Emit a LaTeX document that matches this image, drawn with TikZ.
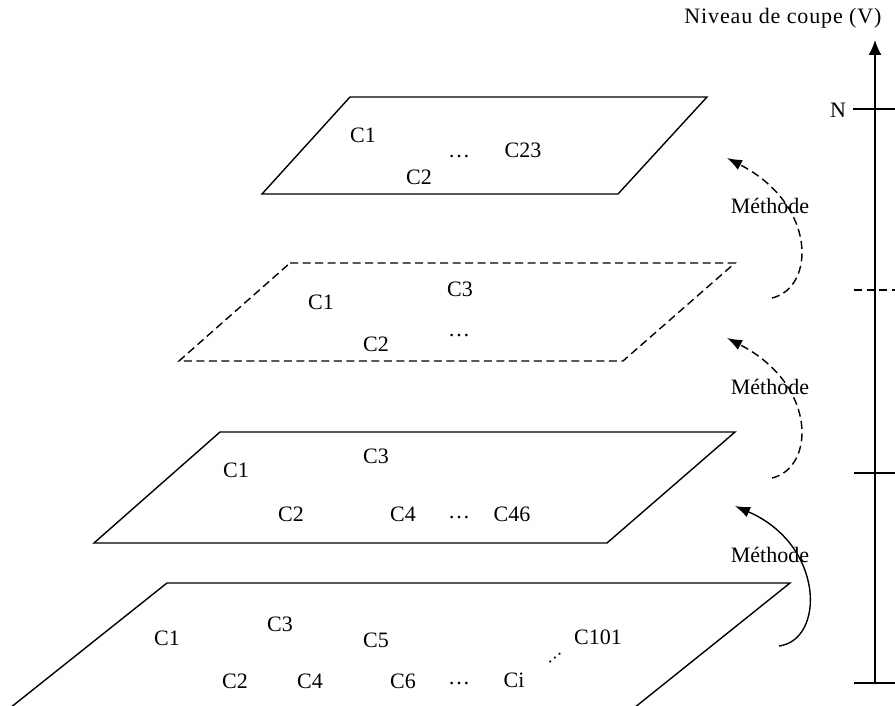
\documentclass[tikz,border=0pt]{standalone}
\usepackage{fontspec}
\setmainfont{Liberation Serif}
\usetikzlibrary{arrows.meta}

\begin{document}
\begin{tikzpicture}[x=1pt, y=-1pt, every node/.style={font=\fontsize{22}{26}\selectfont, inner sep=1pt}, >={Latex[length=15pt, width=11pt]}, plane/.style={line width=1.4pt}, dsh/.style={dash pattern=on 8pt off 4.5pt}, method/.style={->, line width=1.4pt}]
	\useasboundingbox (0,0) rectangle (895,706);
	\clip (0,0) rectangle (895,706);
	% planes
	\draw[plane] (350,97) -- (707,97) -- (618,194) -- (262,194) -- cycle;
	\draw[plane, dsh] (290,263) -- (735,263) -- (623,361) -- (179,361) -- cycle;
	\draw[plane] (220,432) -- (735,432) -- (607,543) -- (94,543) -- cycle;
	\draw[plane] (167,583) -- (790,583) -- (634,708) -- (10,708) -- cycle;
	% level 4
	\node (a1) at (363,135) {C1};
	\node (a2) at (419,177) {C2};
	\node (adots) at (459,157) {\ldots};
	\node (a23) at (523,150) {C23};
	% level 3
	\node (b1) at (321,302) {C1};
	\node (b3) at (460,289) {C3};
	\node (bdots) at (459,336) {\ldots};
	\node (b2) at (376,344) {C2};
	% level 2
	\node (c1) at (236,470) {C1};
	\node (c3) at (376,456) {C3};
	\node (c2) at (291,514) {C2};
	\node (c4) at (403,514) {C4};
	\node (cdots) at (459,518) {\ldots};
	\node (c46) at (512,514) {C46};
	% level 1
	\node (d1) at (167,638) {C1};
	\node (d3) at (280,624) {C3};
	\node (d5) at (376,640) {C5};
	\node (d101) at (598,637) {C101};
	\node (d2) at (235,681) {C2};
	\node (d4) at (310,681) {C4};
	\node (d6) at (403,681) {C6};
	\node (ddots) at (459,684) {\ldots};
	\node (di) at (514,680) {Ci};
	\node[rotate=40, font=\fontsize{18}{18}\selectfont] (dd) at (555,658) {\ldots};
	% methods
	\coordinate (m1s) at (779,646);
	\coordinate (m1e) at (735,506);
	\coordinate (m2s) at (772,478);
	\coordinate (m2e) at (727,338);
	\coordinate (m3s) at (772,298);
	\coordinate (m3e) at (727,158);
	\draw[method] (m1s) .. controls (825,640) and (825,545) .. (m1e);
	\draw[method, dsh] (m2s) .. controls (815,468) and (818,385) .. (m2e);
	\draw[method, dsh] (m3s) .. controls (815,288) and (818,205) .. (m3e);
	\node (t1) at (770,555) {Méthode};
	\node (t2) at (770,387) {Méthode};
	\node (t3) at (770,206) {Méthode};
	% axis
	\coordinate (vbot) at (875,683);
	\coordinate (vtop) at (875,40);
	\draw[->, line width=1.4pt, >={Latex[length=15pt, width=13pt]}] (vbot) -- (vtop);
	\node (vlabel) at (783,18) {\addfontfeature{LetterSpace=4}Niveau de coupe (V)};
	\node (lN) at (838,110) {N};
	\draw[line width=1.4pt] (853,109) -- (900,109);
	\draw[line width=1.4pt, dsh] (854,290) -- (900,290);
	\draw[line width=1.4pt] (854,473) -- (900,473);
	\draw[line width=1.4pt] (854,683) -- (900,683);
\end{tikzpicture}
\end{document}
